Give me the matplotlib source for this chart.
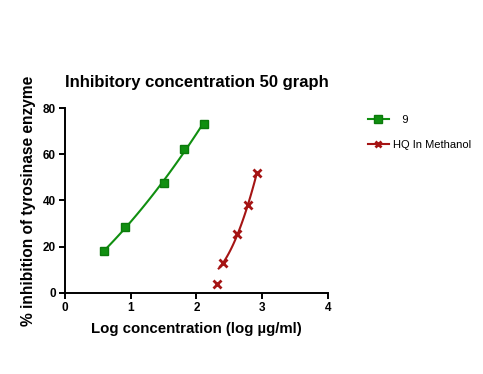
import numpy as np
import matplotlib
matplotlib.use("Agg")
import matplotlib.pyplot as plt

plt.rcParams['font.family'] = ['Liberation Sans', 'DejaVu Sans']

# data
x_9 = [0.60, 0.91, 1.51, 1.81, 2.11]
y_9 = [18.1, 28.6, 47.4, 62.3, 73.2]
x_hq = [2.31, 2.41, 2.62, 2.79, 2.92]
y_hq = [3.8, 13.0, 25.5, 37.9, 52.1]
series_labels = ["   9", "HQ In Methanol"]
xticks = [0, 1, 2, 3, 4]
yticks = [0, 20, 40, 60, 80]

green = "#108f10"
red = "#a51414"

fig = plt.figure(figsize=(4.83, 3.74), dpi=100)
ax = fig.add_axes([0.1346, 0.217, 0.544, 0.494])

# fitted curves
c9 = np.polyfit(x_9, y_9, 2)
xs9 = np.linspace(min(x_9), max(x_9), 100)
ax.plot(xs9, np.polyval(c9, xs9), color=green, lw=1.5, zorder=2)
chq = np.polyfit(x_hq[1:], y_hq[1:], 2)
xshq = np.linspace(2.34, max(x_hq), 100)
ax.plot(xshq, np.polyval(chq, xshq), color=red, lw=1.5, zorder=2)

ax.plot(x_9, y_9, ls='none', marker='s', ms=6, mfc=green, mec="#0b7a0b",
        mew=1, zorder=3)
ax.plot(x_hq, y_hq, ls='none', marker='x', ms=5.5, mfc=red, mec=red,
        mew=2, zorder=3)

# legend handles
h1, = ax.plot([], [], color=green, marker='s', ms=6, mfc=green, mec="#0b7a0b", lw=1.5)
h2, = ax.plot([], [], color=red, marker='x', ms=5, mfc=red, mec=red, mew=2, lw=1.5)
fig.legend([h1, h2], series_labels, loc='upper left', bbox_to_anchor=(0.752, 0.705),
           frameon=False, fontsize=8, labelspacing=1.4, handlelength=1.9,
           handletextpad=0.4, borderaxespad=0)

ax.set_xlim(0, 4)
ax.set_ylim(0, 80)
ax.set_xticks(xticks)
ax.set_yticks(yticks)
for s in ['top', 'right']:
    ax.spines[s].set_visible(False)
for s in ['left', 'bottom']:
    ax.spines[s].set_linewidth(1.4)
ax.tick_params(width=1.4, length=4.5, labelsize=8.5, pad=2)
for lab in ax.get_xticklabels() + ax.get_yticklabels():
    lab.set_fontweight('bold')

ax.set_title("Inhibitory concentration 50 graph", fontsize=12, fontweight='bold', pad=15)
ax.set_xlabel("Log concentration (log µg/ml)", fontsize=10.8, fontweight='bold', labelpad=6)
ax.set_ylabel("% inhibition of tyrosinase enzyme", fontsize=11.2, fontweight='bold', labelpad=5)

fig.savefig("out.png", dpi=100)
